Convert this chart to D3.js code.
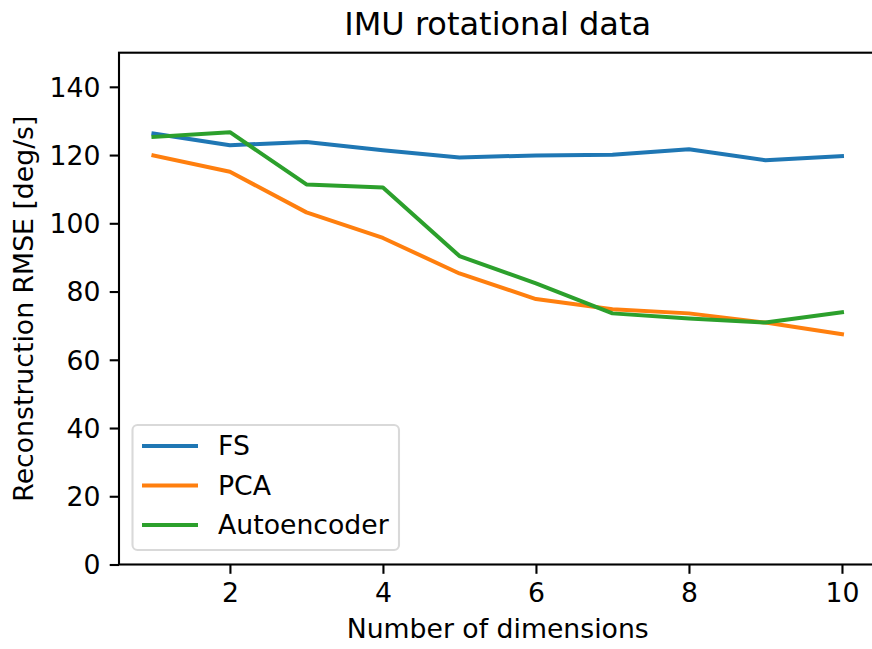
<!DOCTYPE html>
<html lang="en">
<head>
    <meta charset="UTF-8">
    <title>IMU rotational data</title>
    <script src="https://d3js.org/d3.v7.min.js"></script>
    <style>
        body {
            margin: 0;
            padding: 0;
            background: #fff;
            font-family: "DejaVu Sans", sans-serif;
        }
        svg { display: block; }
        .tick text { font-size: 26.7px; font-family: "DejaVu Sans", sans-serif; fill: #000; }
        .line { fill: none; stroke-width: 4; stroke-linejoin: round; stroke-linecap: square; }
    </style>
</head>
<body>
    <svg class="chart" width="872" height="649"></svg>

    <script>
        // data
        const dims = [1, 2, 3, 4, 5, 6, 7, 8, 9, 10];
        const fsValues = [126.3, 122.9, 123.8, 121.4, 119.3, 119.9, 120.1, 121.7, 118.5, 119.7];
        const pcaValues = [119.9, 115.1, 103.2, 95.7, 85.3, 77.8, 74.8, 73.6, 70.9, 67.5];
        const aeValues = [125.3, 126.7, 111.4, 110.5, 90.4, 82.4, 73.6, 72.1, 70.9, 73.9];
        const seriesNames = ['FS', 'PCA', 'Autoencoder'];
        const seriesColors = ['#1f77b4', '#ff7f0e', '#2ca02c'];
        const xTicks = [2, 4, 6, 8, 10];
        const yTicks = [0, 20, 40, 60, 80, 100, 120, 140];

        const series = [fsValues, pcaValues, aeValues].map((vals, i) => ({
            name: seriesNames[i],
            color: seriesColors[i],
            points: dims.map((d, j) => ({ x: d, y: vals[j] }))
        }));

        const margin = { left: 119, right: -4.4, top: 52.7, bottom: 84.5 };
        const W = 872, H = 649;
        const fontSize = 26.7;

        const svg = d3.select('.chart');

        const x = d3.scaleLinear()
            .domain([0.55, 10.45])
            .range([margin.left, W - margin.right]);
        const y = d3.scaleLinear()
            .domain([0, 150])
            .range([H - margin.bottom, margin.top]);

        // spines
        svg.append('rect')
            .attr('x', x(0.55))
            .attr('y', y(150))
            .attr('width', x(10.45) - x(0.55))
            .attr('height', y(0) - y(150))
            .attr('fill', 'none')
            .attr('stroke', '#000')
            .attr('stroke-width', 2.1);

        // axes
        const xAxis = d3.axisBottom(x).tickValues(xTicks).tickSize(9.3).tickPadding(9.3).tickFormat(d3.format('d'));
        const yAxis = d3.axisLeft(y).tickValues(yTicks).tickSize(9.3).tickPadding(9.3).tickFormat(d3.format('d'));

        svg.append('g')
            .attr('transform', `translate(0,${y(0)})`)
            .call(xAxis)
            .call(g => g.select('.domain').remove())
            .call(g => g.selectAll('line').attr('stroke-width', 2.1));

        svg.append('g')
            .attr('transform', `translate(${x(0.55)},0)`)
            .call(yAxis)
            .call(g => g.select('.domain').remove())
            .call(g => g.selectAll('line').attr('stroke-width', 2.1))
            .call(g => g.selectAll('text').attr('dy', '0.35em'));

        // lines
        const line = d3.line()
            .x(d => x(d.x))
            .y(d => y(d.y));

        svg.append('g')
            .selectAll('path')
            .data(series)
            .join('path')
            .attr('class', 'line')
            .attr('stroke', d => d.color)
            .attr('d', d => line(d.points));

        // title and labels
        svg.append('text')
            .attr('x', (x(0.55) + x(10.45)) / 2)
            .attr('y', 35)
            .attr('text-anchor', 'middle')
            .attr('font-size', 32)
            .text('IMU rotational data');

        svg.append('text')
            .attr('x', (x(0.55) + x(10.45)) / 2)
            .attr('y', 638)
            .attr('text-anchor', 'middle')
            .attr('font-size', fontSize)
            .text('Number of dimensions');

        svg.append('text')
            .attr('transform', `translate(33,${(y(0) + y(150)) / 2}) rotate(-90)`)
            .attr('text-anchor', 'middle')
            .attr('font-size', fontSize)
            .text('Reconstruction RMSE [deg/s]');

        // legend
        const legend = svg.append('g');
        legend.append('rect')
            .attr('x', 132.5)
            .attr('y', 425)
            .attr('width', 266.5)
            .attr('height', 125)
            .attr('rx', 5)
            .attr('fill', '#fff')
            .attr('fill-opacity', 0.8)
            .attr('stroke', '#d9d9d9')
            .attr('stroke-width', 2.1);

        const rows = legend.selectAll('g.row')
            .data(series)
            .join('g')
            .attr('class', 'row')
            .attr('transform', (d, i) => `translate(0,${446 + i * 39.5})`);
        rows.append('line')
            .attr('x1', 142).attr('x2', 198)
            .attr('y1', 0).attr('y2', 0)
            .attr('stroke', d => d.color)
            .attr('stroke-width', 4);
        rows.append('text')
            .attr('x', 218)
            .attr('y', 0)
            .attr('dy', '0.35em')
            .attr('font-size', fontSize)
            .text(d => d.name);
    </script>
</body>
</html>
